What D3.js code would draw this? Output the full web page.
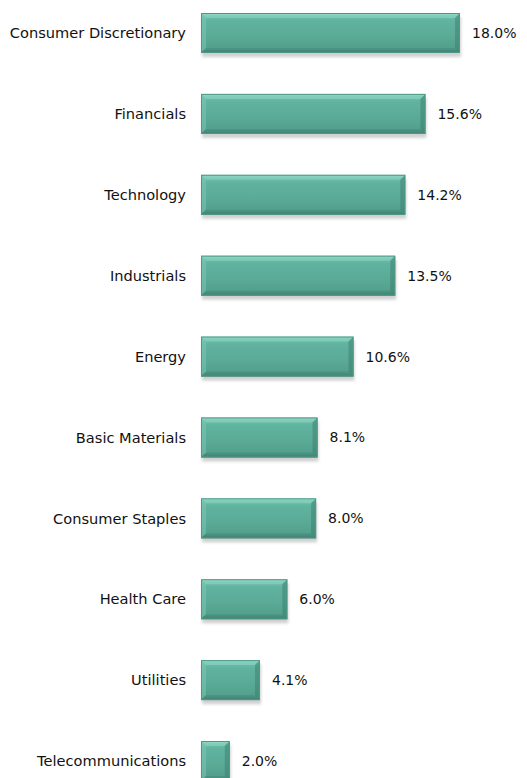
<!DOCTYPE html>
<html><head><meta charset="utf-8">
<script src="https://cdn.jsdelivr.net/npm/d3@7/dist/d3.min.js"></script>
<style>
html,body{margin:0;padding:0;background:#fff;overflow:hidden;}
svg{display:block;}
</style></head>
<body>
<script>
const categories = ["Consumer Discretionary","Financials","Technology","Industrials","Energy","Basic Materials","Consumer Staples","Health Care","Utilities","Telecommunications"];
const values = [18.0,15.6,14.2,13.5,10.6,8.1,8.0,6.0,4.1,2.0];
const valueLabels = ["18.0%","15.6%","14.2%","13.5%","10.6%","8.1%","8.0%","6.0%","4.1%","2.0%"];

const W = 527, H = 778;
const svg = d3.select("body").append("svg").attr("width", W).attr("height", H);
const defs = svg.append("defs");

const g1 = defs.append("linearGradient").attr("id","barGrad").attr("x1",0).attr("y1",0).attr("x2",0).attr("y2",1);
[[0,"#8fd6c3"],[0.07,"#6cc0ab"],[0.2,"#60b39f"],[0.6,"#5aaa96"],[0.9,"#529f8c"],[1,"#437f72"]]
  .forEach(([o,c]) => g1.append("stop").attr("offset",o).attr("stop-color",c));

const f = defs.append("filter").attr("id","shadow").attr("x","-10%").attr("y","-10%").attr("width","130%").attr("height","160%");
f.append("feGaussianBlur").attr("stdDeviation",1.6);

const x = d3.scaleLinear().domain([0, 18]).range([201, 460]);
const y = d3.scalePoint().domain(categories).range([33, 761]);
const barH = 40;

const data = categories.map((c,i)=>({c, v: values[i], label: valueLabels[i]}));

const bars = svg.append("g").selectAll("g").data(data).join("g");

bars.append("rect")
  .attr("x", d => x(0) + 1)
  .attr("y", d => y(d.c) - barH/2 + 4)
  .attr("width", d => x(d.v) - x(0))
  .attr("height", barH)
  .attr("fill", "#a0a0a0")
  .attr("opacity", 0.5)
  .attr("filter", "url(#shadow)");

bars.append("rect")
  .attr("x", d => x(0))
  .attr("y", d => y(d.c) - barH/2)
  .attr("width", d => x(d.v) - x(0))
  .attr("height", barH)
  .attr("fill", "url(#barGrad)");

const bev = 5;
bars.append("path")
  .attr("d", d => {
    const x0 = x(0), y0 = y(d.c) - barH/2, y1 = y0 + barH;
    return `M${x0},${y0}L${x0+bev},${y0+bev}L${x0+bev},${y1-bev}L${x0},${y1}Z`;
  })
  .attr("fill", "#7cc9b5").attr("opacity", 0.5);
bars.append("path")
  .attr("d", d => {
    const x0 = x(0), x1 = x(d.v), y0 = y(d.c) - barH/2;
    return `M${x0},${y0}L${x1},${y0}L${x1-bev},${y0+bev}L${x0+bev},${y0+bev}Z`;
  })
  .attr("fill", "#9fe0cf").attr("opacity", 0.4);
bars.append("path")
  .attr("d", d => {
    const x1 = x(d.v), y0 = y(d.c) - barH/2, y1 = y0 + barH;
    return `M${x1},${y0}L${x1},${y1}L${x1-bev},${y1-bev}L${x1-bev},${y0+bev}Z`;
  })
  .attr("fill", "#3a7d6e").attr("opacity", 0.5);
bars.append("path")
  .attr("d", d => {
    const x0 = x(0), x1 = x(d.v), y1 = y(d.c) + barH/2;
    return `M${x0},${y1}L${x1},${y1}L${x1-bev},${y1-bev}L${x0+bev},${y1-bev}Z`;
  })
  .attr("fill", "#3d7f71").attr("opacity", 0.35);
bars.append("rect")
  .attr("x", d => x(0) + 0.5)
  .attr("y", d => y(d.c) - barH/2 + 0.5)
  .attr("width", d => x(d.v) - x(0) - 1)
  .attr("height", barH - 1)
  .attr("fill", "none")
  .attr("stroke", "#4f9886").attr("stroke-width", 1);

bars.append("text")
  .attr("x", d => x(d.v) + 12)
  .attr("y", d => y(d.c))
  .attr("dy", "0.36em")
  .attr("font-family", "Verdana, 'DejaVu Sans', sans-serif")
  .attr("font-size", 14)
  .attr("fill", "#111")
  .text(d => d.label);

const axis = d3.axisLeft(y).tickSize(0).tickPadding(0);
const ag = svg.append("g").attr("transform", "translate(186,0)").call(axis);
ag.select(".domain").remove();
ag.selectAll("text")
  .attr("font-family", "'DejaVu Sans', Verdana, sans-serif")
  .attr("font-size", 14.6)
  .attr("fill", "#111");
</script>
</body></html>
